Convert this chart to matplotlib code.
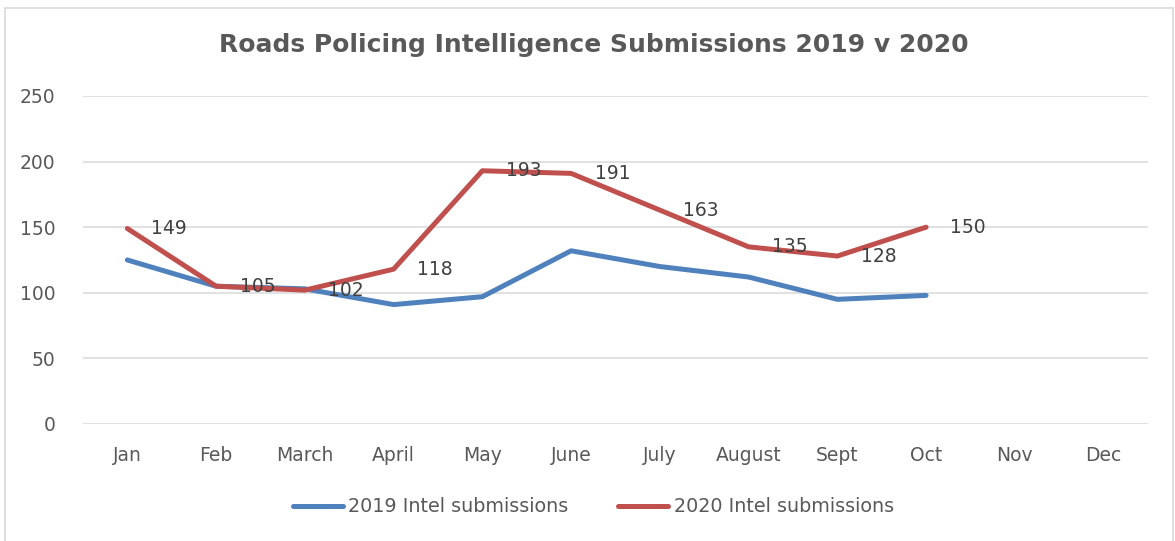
import matplotlib.pyplot as plt
from matplotlib.patches import Rectangle

months = ['Jan', 'Feb', 'March', 'April', 'May', 'June', 'July', 'August',
          'Sept', 'Oct', 'Nov', 'Dec']
intel_2019 = [125, 105, 103, 91, 97, 132, 120, 112, 95, 98]
intel_2020 = [149, 105, 102, 118, 193, 191, 163, 135, 128, 150]

blue = '#4F81BD'
red = '#C0504D'
txt = '#404040'

plt.rcParams['font.family'] = ['DejaVu Sans']

fig = plt.figure(figsize=(11.75, 5.41), dpi=100)
ax = fig.add_axes([0.0706, 0.2163, 0.9064, 0.6063])

x19 = list(range(len(intel_2019)))
x20 = list(range(len(intel_2020)))
ax.plot(x19, intel_2019, color=blue, lw=3.6, solid_capstyle='round',
        solid_joinstyle='round', label='2019 Intel submissions', zorder=3)
ax.plot(x20, intel_2020, color=red, lw=3.6, solid_capstyle='round',
        solid_joinstyle='round', label='2020 Intel submissions', zorder=4)

# value labels on the 2020 series, to the right of each point
for i, v in enumerate(intel_2020):
    ax.annotate(str(v), (i, v), xytext=(17, 0), textcoords='offset points',
                ha='left', va='center', fontsize=13.5, color=txt, zorder=5)

ax.set_xlim(-0.5, len(months) - 0.5)
ax.set_ylim(0, 250)
ax.set_yticks(range(0, 251, 50))
ax.set_xticks(range(len(months)))
ax.set_xticklabels(months)
ax.tick_params(axis='both', length=0, labelsize=13.5, labelcolor='#595959')
ax.tick_params(axis='x', pad=16)
ax.tick_params(axis='y', pad=20)
ax.grid(axis='y', color='#d9d9d9', lw=1.1)
ax.set_axisbelow(True)
for s in ax.spines.values():
    s.set_visible(False)

fig.text(0.505, 0.917, 'Roads Policing Intelligence Submissions 2019 v 2020',
         ha='center', va='center', fontsize=18, fontweight='bold',
         color='#595959', family='DejaVu Sans')

fig.legend(loc='center', bbox_to_anchor=(0.505, 0.063), ncol=2, frameon=False,
           fontsize=13.8, handlelength=2.6, columnspacing=2.6,
           handletextpad=0.3, labelcolor='#595959')

fig.patches.append(Rectangle((0.004, -0.01), 0.994, 0.995,
                             transform=fig.transFigure, fill=False,
                             edgecolor='#d9d9d9', lw=1.2))

fig.savefig('out.png', dpi=100)
